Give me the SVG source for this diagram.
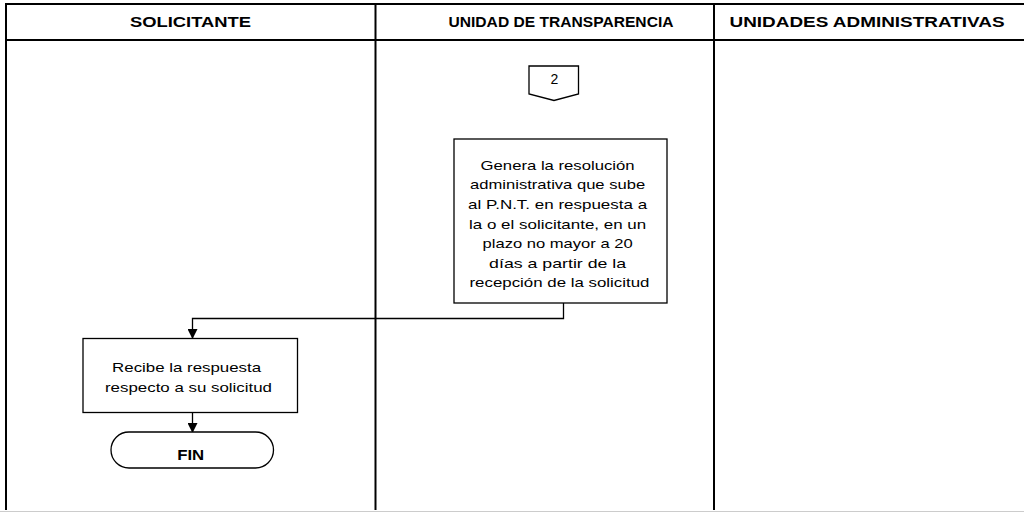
<svg xmlns="http://www.w3.org/2000/svg" width="1024" height="512" viewBox="0 0 1024 512">
<style>
.lane{stroke:#000;stroke-width:2;fill:none}
.box{fill:#fff;stroke:#000;stroke-width:1.3}
.hdr{font-family:"Liberation Sans",Arial,sans-serif;font-weight:bold;font-size:15.5px;fill:#000}
.txt{font-family:"Liberation Sans",Arial,sans-serif;font-size:13.5px;fill:#000}
.conn{stroke:#000;stroke-width:1.3;fill:none}
</style>
<defs>
<marker id="arr" markerUnits="userSpaceOnUse" markerWidth="10" markerHeight="10" refX="9" refY="5" orient="auto">
<path d="M0,0 L10,5 L0,10 Z" fill="#000"/>
</marker>
</defs>
<rect width="1024" height="512" fill="#fff"/>
<g id="lanes">
<line class="lane" x1="5" y1="4" x2="1024" y2="4"/>
<line class="lane" x1="5" y1="40" x2="1024" y2="40"/>
<line class="lane" x1="6" y1="3" x2="6" y2="510"/>
<line class="lane" x1="375.5" y1="3" x2="375.5" y2="510"/>
<line class="lane" x1="714" y1="3" x2="714" y2="510"/>
<line x1="0" y1="511.5" x2="1024" y2="511.5" stroke="#cccccc" stroke-width="1"/>
<text class="hdr" x="190.5" y="27.3" text-anchor="middle" textLength="121" lengthAdjust="spacingAndGlyphs">SOLICITANTE</text>
<text class="hdr" x="561" y="27.3" text-anchor="middle" textLength="225" lengthAdjust="spacingAndGlyphs">UNIDAD DE TRANSPARENCIA</text>
<text class="hdr" x="867" y="27.3" text-anchor="middle" textLength="275" lengthAdjust="spacingAndGlyphs">UNIDADES ADMINISTRATIVAS</text>
</g>
<g id="connectors">
<polyline class="conn" points="563.5,303 563.5,318.5 192.5,318.5 192.5,338" marker-end="url(#arr)"/>
<line class="conn" x1="192.5" y1="412" x2="192.5" y2="432" marker-end="url(#arr)"/>
</g>
<g id="offpage2">
<polygon class="box" points="529,66 578.5,66 578.5,94 554,100.5 529,94"/>
<text class="txt" x="554.5" y="84" text-anchor="middle" style="font-size:14px">2</text>
</g>
<g id="genera">
<rect class="box" x="454" y="139" width="213" height="164"/>
<text class="txt" text-anchor="middle">
<tspan x="559.5" y="169.5" textLength="154" lengthAdjust="spacingAndGlyphs">Genera la resolución</tspan>
<tspan x="559.5" y="189.2" textLength="175" lengthAdjust="spacingAndGlyphs">administrativa que sube</tspan>
<tspan x="559.5" y="208.9" textLength="179" lengthAdjust="spacingAndGlyphs">al P.N.T. en respuesta a</tspan>
<tspan x="559.5" y="228.5" textLength="177" lengthAdjust="spacingAndGlyphs">la o el solicitante, en un</tspan>
<tspan x="559.5" y="248" textLength="150" lengthAdjust="spacingAndGlyphs">plazo no mayor a 20</tspan>
<tspan x="559.5" y="267.6" textLength="137" lengthAdjust="spacingAndGlyphs">días a partir de la</tspan>
<tspan x="559.5" y="287.4" textLength="180" lengthAdjust="spacingAndGlyphs">recepción de la solicitud</tspan>
</text>
</g>
<g id="recibe">
<rect class="box" x="83" y="338.5" width="214.5" height="74"/>
<text class="txt" text-anchor="middle">
<tspan x="188.5" y="372" textLength="149" lengthAdjust="spacingAndGlyphs">Recibe la respuesta</tspan>
<tspan x="188.5" y="392" textLength="167" lengthAdjust="spacingAndGlyphs">respecto a su solicitud</tspan>
</text>
</g>
<g id="fin">
<rect class="box" x="111" y="432" width="162.5" height="36" rx="18" ry="18"/>
<text class="hdr" x="190.7" y="459.5" text-anchor="middle" textLength="27" lengthAdjust="spacingAndGlyphs">FIN</text>
</g>
</svg>
